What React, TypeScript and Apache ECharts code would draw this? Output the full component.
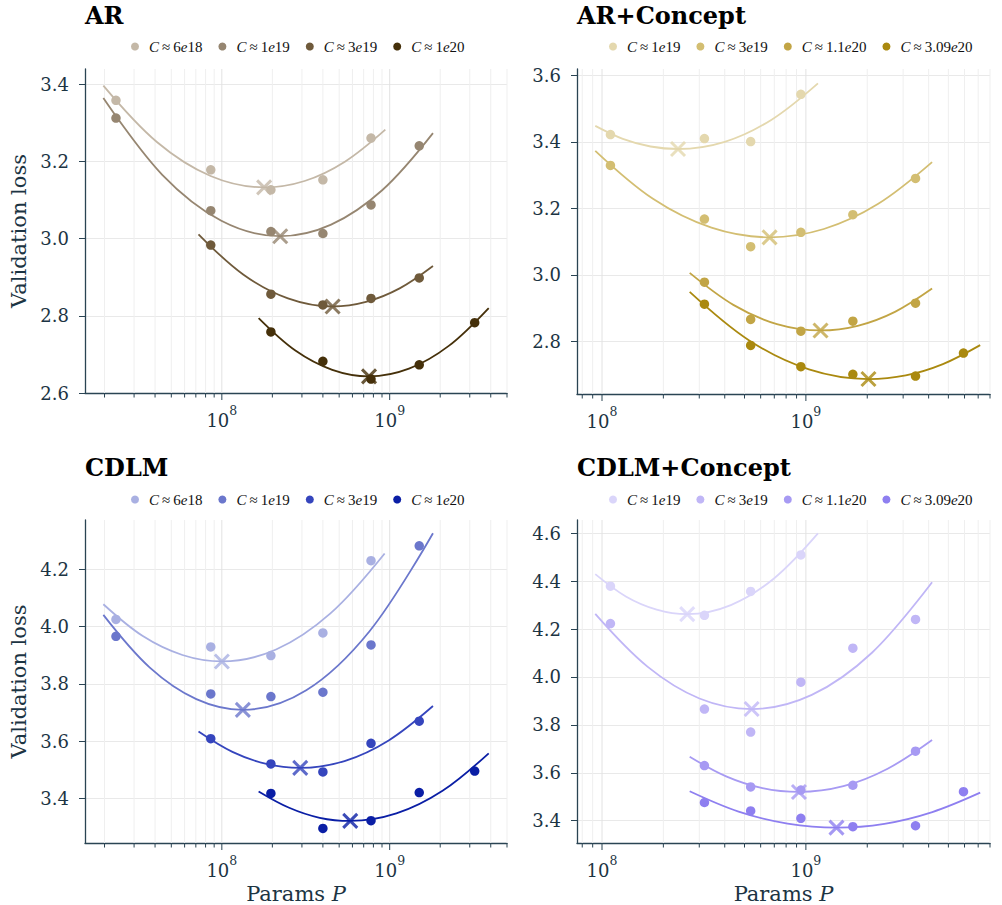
import React, { useEffect, useRef } from 'react';
import * as echarts from 'echarts';

// ---------- data ----------
const paramsAR = [2.34e7, 8.59e7, 1.96e8, 4.0e8, 7.74e8, 1.5e9, 3.21e9];
const paramsConcept = [1.1e8, 3.18e8, 5.36e8, 9.45e8, 1.7e9, 3.45e9, 5.93e9];

const computeAR = ['6e18', '1e19', '3e19', '1e20'];
const computeConcept = ['1e19', '3e19', '1.1e20', '3.09e20'];

// AR
const lossAR6e18 = [3.358, 3.178, 3.126, 3.152, 3.26, null, null];
const lossAR1e19 = [3.312, 3.072, 3.018, 3.013, 3.087, 3.24, null];
const lossAR3e19 = [null, 2.983, 2.856, 2.828, 2.845, 2.898, null];
const lossAR1e20 = [null, null, 2.758, 2.682, 2.636, 2.673, 2.782];
// AR+Concept
const lossARC1e19 = [3.422, 3.41, 3.401, 3.543, null, null, null];
const lossARC3e19 = [3.329, 3.168, 3.085, 3.128, 3.181, 3.29, null];
const lossARC11e20 = [null, 2.978, 2.866, 2.831, 2.861, 2.915, null];
const lossARC309e20 = [null, 2.912, 2.788, 2.724, 2.701, 2.696, 2.765];
// CDLM
const lossCD6e18 = [4.025, 3.929, 3.899, 3.978, 4.23, null, null];
const lossCD1e19 = [3.966, 3.765, 3.756, 3.771, 3.936, 4.282, null];
const lossCD3e19 = [null, 3.609, 3.521, 3.493, 3.593, 3.67, null];
const lossCD1e20 = [null, null, 3.418, 3.296, 3.323, 3.421, 3.496];
// CDLM+Concept
const lossCDC1e19 = [4.379, 4.257, 4.357, 4.509, null, null, null];
const lossCDC3e19 = [4.223, 3.866, 3.77, 3.978, 4.12, 4.24, null];
const lossCDC11e20 = [null, 3.63, 3.541, 3.528, 3.548, 3.69, null];
const lossCDC309e20 = [null, 3.476, 3.441, 3.41, 3.375, 3.379, 3.521];

// fitted curves
const fitAR6e18P = [1.968e7, 4.102e7, 8.57e7, 1.786e8, 3.112e8, 5.408e8, 9.419e8];
const fitAR6e18L = [3.396, 3.25, 3.162, 3.1325, 3.149, 3.199, 3.282];
const fitAR1e19P = [1.968e7, 4.416e7, 9.931e7, 2.228e8, 4.477e8, 9.016e8, 1.811e9];
const fitAR1e19L = [3.364, 3.165, 3.046, 3.006, 3.036, 3.125, 3.273];
const fitAR3e19P = [7.261e7, 1.34e8, 2.477e8, 4.571e8, 7.228e8, 1.146e9, 1.811e9];
const fitAR3e19L = [3.011, 2.907, 2.845, 2.824, 2.836, 2.871, 2.929];
const fitAR1e20P = [1.656e8, 2.742e8, 4.55e8, 7.534e8, 1.303e9, 2.249e9, 3.89e9];
const fitAR1e20L = [2.794, 2.71, 2.66, 2.643, 2.663, 2.722, 2.82];

const fitARC1e19P = [9.268e7, 1.265e8, 1.73e8, 2.36e8, 3.999e8, 6.761e8, 1.146e9];
const fitARC1e19L = [3.448, 3.409, 3.386, 3.3785, 3.4, 3.466, 3.576];
const fitARC3e19P = [9.268e7, 1.786e8, 3.443e8, 6.637e8, 1.225e9, 2.254e9, 4.159e9];
const fitARC3e19L = [3.373, 3.228, 3.142, 3.113, 3.138, 3.213, 3.339];
const fitARC11e20P = [2.692e8, 4.406e8, 7.211e8, 1.18e9, 1.795e9, 2.735e9, 4.159e9];
const fitARC11e20L = [3.006, 2.91, 2.852, 2.833, 2.847, 2.889, 2.959];
const fitARC309e20P = [2.692e8, 5.272e8, 1.035e9, 2.028e9, 3.09e9, 4.699e9, 7.161e9];
const fitARC309e20L = [2.949, 2.803, 2.716, 2.687, 2.698, 2.732, 2.789];

const fitCD6e18P = [1.968e7, 3.381e7, 5.821e7, 1.0e8, 2.104e8, 4.436e8, 9.333e8];
const fitCD6e18L = [4.078, 3.967, 3.901, 3.8785, 3.92, 4.046, 4.255];
const fitCD1e19P = [1.968e7, 3.724e7, 7.047e7, 1.334e8, 3.184e8, 7.586e8, 1.811e9];
const fitCD1e19L = [4.041, 3.857, 3.747, 3.7097, 3.778, 3.984, 4.326];
const fitCD3e19P = [7.261e7, 1.156e8, 1.841e8, 2.931e8, 5.383e8, 9.863e8, 1.811e9];
const fitCD3e19L = [3.634, 3.563, 3.521, 3.507, 3.531, 3.603, 3.723];
const fitCD1e20P = [1.656e8, 2.518e8, 3.828e8, 5.821e8, 1.096e9, 2.065e9, 3.89e9];
const fitCD1e20L = [3.425, 3.368, 3.333, 3.322, 3.348, 3.427, 3.558];

const fitCDC1e19P = [9.268e7, 1.309e8, 1.854e8, 2.618e8, 4.285e8, 6.998e8, 1.146e9];
const fitCDC1e19L = [4.429, 4.336, 4.281, 4.262, 4.3, 4.412, 4.599];
const fitCDC3e19P = [9.268e7, 1.671e8, 3.006e8, 5.42e8, 1.069e9, 2.109e9, 4.159e9];
const fitCDC3e19L = [4.263, 4.043, 3.91, 3.866, 3.925, 4.101, 4.395];
const fitCDC11e20P = [2.692e8, 4.064e8, 6.124e8, 9.247e8, 1.528e9, 2.518e9, 4.159e9];
const fitCDC11e20L = [3.667, 3.585, 3.536, 3.52, 3.544, 3.617, 3.737];
const fitCDC309e20P = [2.692e8, 4.677e8, 8.128e8, 1.413e9, 2.427e9, 4.169e9, 7.161e9];
const fitCDC309e20L = [3.523, 3.438, 3.388, 3.371, 3.387, 3.436, 3.517];

// optimum markers
const optAR_P = [1.786e8, 2.228e8, 4.571e8, 7.534e8];
const optAR_L = [3.1325, 3.006, 2.824, 2.643];
const optARC_P = [2.36e8, 6.637e8, 1.18e9, 2.028e9];
const optARC_L = [3.3785, 3.113, 2.833, 2.687];
const optCD_P = [1.0e8, 1.334e8, 2.931e8, 5.821e8];
const optCD_L = [3.8785, 3.7097, 3.507, 3.322];
const optCDC_P = [2.618e8, 5.42e8, 9.247e8, 1.413e9];
const optCDC_L = [4.262, 3.866, 3.52, 3.371];

// ticks
const xTicksWide = [2e7, 3e7, 4e7, 5e7, 6e7, 7e7, 8e7, 9e7, 1e8, 2e8, 3e8, 4e8, 5e8, 6e8, 7e8, 8e8, 9e8, 1e9, 2e9, 3e9, 4e9, 5e9];
const xTicksNarrow = [8e7, 9e7, 1e8, 2e8, 3e8, 4e8, 5e8, 6e8, 7e8, 8e8, 9e8, 1e9, 2e9, 3e9, 4e9, 5e9, 6e9, 7e9, 8e9];
const yTicksAR = [2.6, 2.8, 3.0, 3.2, 3.4];
const yTicksARC = [2.8, 3.0, 3.2, 3.4, 3.6];
const yTicksCD = [3.4, 3.6, 3.8, 4.0, 4.2];
const yTicksCDC = [3.4, 3.6, 3.8, 4.0, 4.2, 4.4, 4.6];

// colours
const colorsAR = ['#c4b8a7', '#968671', '#6f5a3b', '#45300a'];
const colorsARC = ['#e4d8ae', '#d3be72', '#c2a545', '#aa890f'];
const colorsCD = ['#a9b0e2', '#6b77cc', '#3545bd', '#0a1ea5'];
const colorsCDC = ['#dad5fa', '#c0b6f6', '#a79af3', '#8e7ff0'];

const panels = [
  {
    title: 'AR', compute: computeAR, params: paramsAR,
    losses: [lossAR6e18, lossAR1e19, lossAR3e19, lossAR1e20],
    fits: [[fitAR6e18P, fitAR6e18L], [fitAR1e19P, fitAR1e19L], [fitAR3e19P, fitAR3e19L], [fitAR1e20P, fitAR1e20L]],
    optP: optAR_P, optL: optAR_L, colors: colorsAR, xTicks: xTicksWide, yTicks: yTicksAR,
  },
  {
    title: 'AR+Concept', compute: computeConcept, params: paramsConcept,
    losses: [lossARC1e19, lossARC3e19, lossARC11e20, lossARC309e20],
    fits: [[fitARC1e19P, fitARC1e19L], [fitARC3e19P, fitARC3e19L], [fitARC11e20P, fitARC11e20L], [fitARC309e20P, fitARC309e20L]],
    optP: optARC_P, optL: optARC_L, colors: colorsARC, xTicks: xTicksNarrow, yTicks: yTicksARC,
  },
  {
    title: 'CDLM', compute: computeAR, params: paramsAR,
    losses: [lossCD6e18, lossCD1e19, lossCD3e19, lossCD1e20],
    fits: [[fitCD6e18P, fitCD6e18L], [fitCD1e19P, fitCD1e19L], [fitCD3e19P, fitCD3e19L], [fitCD1e20P, fitCD1e20L]],
    optP: optCD_P, optL: optCD_L, colors: colorsCD, xTicks: xTicksWide, yTicks: yTicksCD,
  },
  {
    title: 'CDLM+Concept', compute: computeConcept, params: paramsConcept,
    losses: [lossCDC1e19, lossCDC3e19, lossCDC11e20, lossCDC309e20],
    fits: [[fitCDC1e19P, fitCDC1e19L], [fitCDC3e19P, fitCDC3e19L], [fitCDC11e20P, fitCDC11e20L], [fitCDC309e20P, fitCDC309e20L]],
    optP: optCDC_P, optL: optCDC_L, colors: colorsCDC, xTicks: xTicksNarrow, yTicks: yTicksCDC,
  },
];

// ---------- layout ----------
const layouts = [
  { left: 85, top: 69, width: 422, height: 324, xMin: 1.53e7, xMax: 5.0e9, yMin: 2.6, yMax: 3.439, legendLeft: 126, legendTop: 34, titleTop: 3, yName: true, xName: false },
  { left: 577, top: 69, width: 413, height: 325, xMin: 7.54e7, xMax: 8.0e9, yMin: 2.642, yMax: 3.619, legendLeft: 604, legendTop: 34, titleTop: 3, yName: false, xName: false },
  { left: 85, top: 520, width: 422, height: 325, xMin: 1.53e7, xMax: 5.0e9, yMin: 3.245, yMax: 4.372, legendLeft: 126, legendTop: 487, titleTop: 455, yName: true, xName: true },
  { left: 577, top: 520, width: 413, height: 326, xMin: 7.54e7, xMax: 8.0e9, yMin: 3.307, yMax: 4.655, legendLeft: 604, legendTop: 487, titleTop: 455, yName: false, xName: true },
];

const AXIS = '#2a4453';
const TEXT = '#1c3443';
const SERIF = 'DejaVu Serif';

function isPow10(v: number) {
  const l = Math.log10(v);
  return Math.abs(l - Math.round(l)) < 1e-6;
}

function legendText(name: string) {
  const c = name.split('|')[1];
  const [m, ex] = c.split('e');
  return `{i|C}{n|\u2009\u2248\u2009${m}}{i|e}{n|${ex}}`;
}

function buildOption() {
  const grid: any[] = [];
  const xAxis: any[] = [];
  const yAxis: any[] = [];
  const series: any[] = [];
  const legend: any[] = [];
  const title: any[] = [];

  panels.forEach((p, i) => {
    const L = layouts[i];
    grid.push({ left: L.left, top: L.top, width: L.width, height: L.height, containLabel: false });
    title.push({
      text: p.title, left: L.left, top: L.titleTop, padding: 0,
      textStyle: { fontFamily: SERIF, fontWeight: 'bold', fontSize: 24, color: '#000' },
    });
    xAxis.push({
      type: 'log', logBase: 10, gridIndex: i, min: L.xMin, max: L.xMax,
      axisLine: { show: true, lineStyle: { color: AXIS, width: 1.3 } },
      axisTick: { show: false }, splitLine: { show: false },
      axisLabel: {
        show: true, margin: 11, color: TEXT, fontFamily: SERIF, fontSize: 18,
        showMinLabel: false, showMaxLabel: false,
        formatter: (v: number) => (isPow10(v) ? `{b|10}{s|${Math.round(Math.log10(v))}}` : ''),
        rich: {
          b: { fontFamily: SERIF, fontSize: 18, color: TEXT, lineHeight: 25, verticalAlign: 'bottom' },
          s: { fontFamily: SERIF, fontSize: 12.5, color: TEXT, lineHeight: 25, verticalAlign: 'top' },
        },
      },
      name: L.xName ? 'Params {i|P}' : '', nameLocation: 'middle', nameGap: 40,
      nameTextStyle: {
        fontFamily: SERIF, fontSize: 21, color: TEXT,
        rich: { i: { fontFamily: SERIF, fontStyle: 'italic', fontSize: 21, color: TEXT } },
      },
    });
    yAxis.push({
      type: 'value', gridIndex: i, min: L.yMin, max: L.yMax,
      axisLine: { show: true, lineStyle: { color: AXIS, width: 1.3 } },
      axisTick: { show: true, length: 6, customValues: p.yTicks, lineStyle: { color: AXIS, width: 1 } },
      axisLabel: {
        show: true, customValues: p.yTicks, margin: 16, color: TEXT, fontFamily: SERIF, fontSize: 18,
        formatter: (v: number) => v.toFixed(1),
      },
      splitLine: { show: true, lineStyle: { color: '#e9e9e9', width: 1 } },
      name: L.yName ? 'Validation loss' : '', nameLocation: 'middle', nameGap: 56, nameRotate: 90,
      nameTextStyle: { fontFamily: SERIF, fontSize: 21, color: TEXT },
    });

    // vertical log gridlines + ticks
    series.push({
      type: 'custom', xAxisIndex: i, yAxisIndex: i, silent: true, z: 1,
      data: p.xTicks.map((v) => [v, L.yMin]),
      renderItem: (_params: any, api: any) => {
        const v = api.value(0);
        const top = api.coord([v, L.yMax]);
        const bot = api.coord([v, L.yMin]);
        const major = isPow10(v);
        return {
          type: 'group',
          children: [
            { type: 'line', shape: { x1: top[0], y1: top[1], x2: bot[0], y2: bot[1] }, style: { stroke: major ? '#e2e2e2' : '#efefef', lineWidth: 1 } },
            { type: 'line', shape: { x1: bot[0], y1: bot[1], x2: bot[0], y2: bot[1] + (major ? 7 : 4.5) }, style: { stroke: AXIS, lineWidth: 1 } },
          ],
        };
      },
    });

    const names: string[] = [];
    p.compute.forEach((c, g) => {
      const color = p.colors[g];
      const name = `${p.title}|${c}`;
      names.push(name);
      const [fp, fl] = p.fits[g];
      series.push({
        type: 'line', xAxisIndex: i, yAxisIndex: i, silent: true, z: 2,
        data: fp.map((x, k) => [x, fl[k]]),
        showSymbol: false, smooth: 0.35, lineStyle: { color, width: 1.8 },
      });
      series.push({
        type: 'scatter', name, xAxisIndex: i, yAxisIndex: i, z: 3,
        data: p.params.map((x, k) => [x, p.losses[g][k]]).filter((d) => d[1] !== null),
        symbol: 'circle', symbolSize: 9.5, itemStyle: { color, opacity: 1 },
      });
      series.push({
        type: 'scatter', xAxisIndex: i, yAxisIndex: i, z: 4,
        data: [[p.optP[g], p.optL[g]]],
        symbol: 'path://M0,0L10,10M10,0L0,10', symbolSize: 14,
        itemStyle: { color: 'rgba(0,0,0,0)', borderColor: color, borderWidth: 3 },
      });
    });

    legend.push({
      data: names, left: L.legendLeft, top: L.legendTop, orient: 'horizontal',
      icon: 'circle', itemWidth: 8, itemHeight: 8, itemGap: 16, selectedMode: false,
      formatter: legendText,
      textStyle: {
        padding: [0, 0, 0, 5],
        rich: {
          i: { fontFamily: 'Liberation Serif', fontStyle: 'italic', fontSize: 15, color: '#111' },
          n: { fontFamily: 'Liberation Serif', fontSize: 15, color: '#111' },
        },
      },
    });
  });

  return { animation: false, backgroundColor: '#ffffff', title, grid, xAxis, yAxis, legend, series };
}

export default function App() {
  const ref = useRef<HTMLDivElement>(null);
  useEffect(() => {
    if (!ref.current) return;
    const chart = echarts.init(ref.current, undefined, { renderer: 'svg' });
    chart.setOption(buildOption() as any);
    return () => chart.dispose();
  }, []);
  return <div ref={ref} style={{ position: 'fixed', left: 0, top: 0, width: 1002, height: 905, background: '#fff' }} />;
}
